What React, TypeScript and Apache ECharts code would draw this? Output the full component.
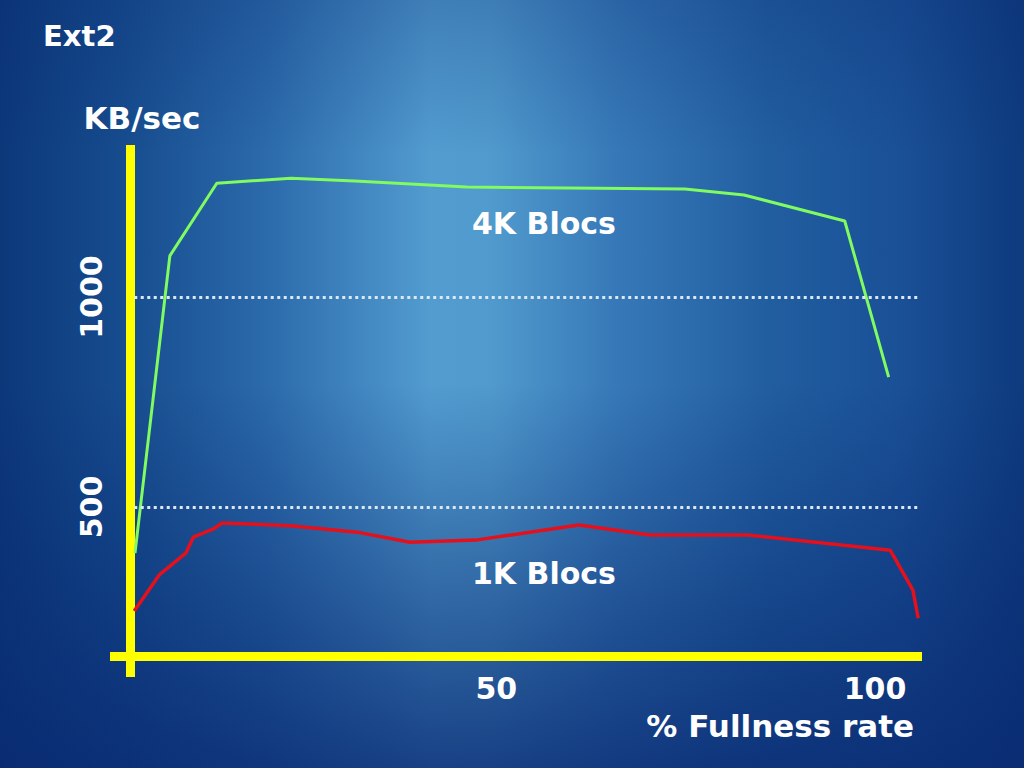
import React, { useEffect, useRef } from "react";
import * as echarts from "echarts";

const fullness4K = [2.3, 6.9, 13.1, 22.9, 31.3, 46.1, 74.9, 82.7, 96.0, 101.8];
const rate4K = [390, 1098, 1271, 1283, 1276, 1262, 1257, 1243, 1181, 809];

const fullness1K = [2.2, 5.5, 9.0, 10.0, 12.6, 13.8, 22.8, 31.6, 38.6, 47.3, 60.9, 70.3, 83.2, 102.0, 105.0, 105.7];
const rate1K = [252, 338, 390, 428, 447, 462, 455, 440, 416, 421, 457, 433, 433, 397, 302, 235];

const xTickLabels = [50, 100];
const yTickLabels = [500, 1000];
const guideLevels = [500, 1000];
const guideSpan = [2.2, 105.7];

const FONT = "DejaVu Sans";

export default function App() {
  const ref = useRef<HTMLDivElement>(null);

  useEffect(() => {
    if (!ref.current) return;
    const chart = echarts.init(ref.current, null, { renderer: "svg" });
    const pairs = (xs: number[], ys: number[]) => xs.map((x, i) => [x, ys[i]]);
    const txt = { color: "#ffffff", fontFamily: FONT, fontWeight: "bold" as const };

    chart.setOption({
      animation: false,
      backgroundColor: {
        type: "linear",
        x: 0,
        y: 0,
        x2: 1,
        y2: 0,
        colorStops: [
          { offset: 0, color: "#0c387a" },
          { offset: 0.12, color: "#164c8e" },
          { offset: 0.26, color: "#2b6aab" },
          { offset: 0.42, color: "#529cd0" },
          { offset: 0.48, color: "#509acd" },
          { offset: 0.6, color: "#3779b8" },
          { offset: 0.75, color: "#215ea0" },
          { offset: 0.88, color: "#1a5096" },
          { offset: 1, color: "#0e3a7e" },
        ],
      },
      title: {
        text: "Ext2",
        left: 38,
        top: 16,
        textStyle: { ...txt, fontSize: 29 },
      },
      grid: { left: 110, right: 102, top: 145, bottom: 91, containLabel: false },
      xAxis: {
        type: "value",
        min: -1,
        max: 106.2,
        offset: -21,
        name: "% Fullness rate",
        nameLocation: "end",
        nameGap: -8,
        nameTextStyle: { ...txt, fontSize: 31, align: "right", verticalAlign: "top", padding: [54, 0, 0, 0] },
        axisLine: { onZero: false, lineStyle: { color: "#ffff00", width: 9, cap: "butt" } },
        axisTick: { show: false },
        splitLine: { show: false },
        axisLabel: { ...txt, fontSize: 30, margin: 17, customValues: xTickLabels, formatter: (v: number) => String(v) },
      },
      yAxis: {
        type: "value",
        min: 95,
        max: 1362,
        offset: -20,
        name: "KB/sec",
        nameLocation: "end",
        nameGap: 12,
        nameTextStyle: { ...txt, fontSize: 31, align: "center", verticalAlign: "bottom", padding: [0, 0, 0, 24] },
        axisLine: { onZero: false, lineStyle: { color: "#ffff00", width: 9, cap: "butt" } },
        axisTick: { show: false },
        splitLine: { show: false },
        axisLabel: {
          ...txt,
          fontSize: 30,
          margin: 24,
          rotate: 90,
          customValues: yTickLabels,
          formatter: (v: number) => String(v),
        },
      },
      graphic: [
        {
          type: "rect",
          left: 0,
          top: 0,
          z: -10,
          silent: true,
          shape: { width: 1024, height: 768 },
          style: {
            fill: {
              type: "linear",
              x: 0,
              y: 0,
              x2: 0,
              y2: 1,
              colorStops: [
                { offset: 0, color: "rgba(8,40,112,0.25)" },
                { offset: 0.2, color: "rgba(8,40,112,0)" },
                { offset: 0.5, color: "rgba(8,40,112,0)" },
                { offset: 0.78, color: "rgba(8,40,112,0.45)" },
                { offset: 1, color: "rgba(8,40,112,0.78)" },
              ],
            },
          },
        },
        { type: "text", left: 472, top: 208, style: { text: "4K Blocs", fill: "#ffffff", font: `bold 30px "${FONT}"` } },
        { type: "text", left: 472, top: 558, style: { text: "1K Blocs", fill: "#ffffff", font: `bold 30px "${FONT}"` } },
      ],
      series: [
        {
          type: "line",
          data: [],
          silent: true,
          markLine: {
            silent: true,
            symbol: ["none", "none"],
            label: { show: false },
            lineStyle: { color: "#dce8f6", width: 3, type: [3, 3.5], opacity: 1 },
            data: guideLevels.map((v) => [{ coord: [guideSpan[0], v] }, { coord: [guideSpan[1], v] }]),
          },
        },
        {
          name: "4K Blocs",
          type: "line",
          data: pairs(fullness4K, rate4K),
          symbol: "none",
          lineStyle: { color: "#80fb60", width: 3 },
        },
        {
          name: "1K Blocs",
          type: "line",
          data: pairs(fullness1K, rate1K),
          symbol: "none",
          lineStyle: { color: "#e4101c", width: 3.5 },
        },
      ],
    });
    return () => chart.dispose();
  }, []);

  return <div ref={ref} style={{ position: "fixed", left: 0, top: 0, width: 1024, height: 768 }} />;
}
